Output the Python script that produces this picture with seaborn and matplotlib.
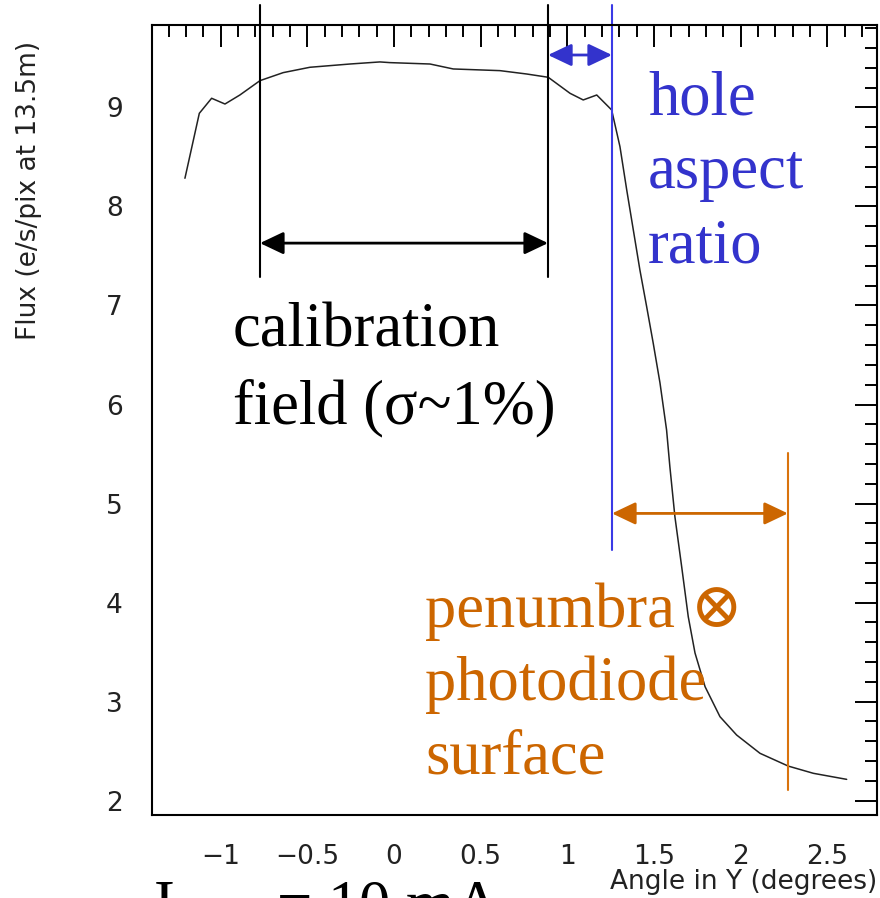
import numpy as np
import pandas as pd
import matplotlib
matplotlib.use("Agg")
import matplotlib.pyplot as plt
from matplotlib.ticker import MultipleLocator
import seaborn as sns

# ---- data ----
angle = [-1.206, -1.123, -1.052, -0.975, -0.889, -0.773, -0.639, -0.485, -0.254, -0.081,
         -0.023, 0.208, 0.342, 0.612, 0.766, 0.890, 1.016, 1.092, 1.170, 1.256,
         1.304, 1.343, 1.381, 1.419, 1.458, 1.496, 1.535, 1.573, 1.592, 1.621,
         1.660, 1.698, 1.737, 1.795, 1.881, 1.977, 2.112, 2.275, 2.420, 2.612]
flux = [8.285, 8.941, 9.093, 9.035, 9.126, 9.271, 9.352, 9.406, 9.439, 9.460,
        9.453, 9.439, 9.389, 9.372, 9.338, 9.305, 9.143, 9.076, 9.126, 8.975,
        8.604, 8.167, 7.763, 7.359, 6.988, 6.618, 6.217, 5.742, 5.371, 4.867,
        4.362, 3.857, 3.490, 3.150, 2.847, 2.662, 2.477, 2.348, 2.275, 2.214]

x_ticks = [-1, -0.5, 0, 0.5, 1, 1.5, 2, 2.5]
x_tick_labels = ["\u22121", "\u22120.5", "0", "0.5", "1", "1.5", "2", "2.5"]
y_ticks = [2, 3, 4, 5, 6, 7, 8, 9]

calib_edges = [-0.773, 0.889]      # calibration field limits
hole_edge = 1.258                  # hole aspect ratio line
penumbra_edge = 2.273              # penumbra limit
calib_arrow_y = 7.63
hole_arrow_y = 9.53
penumbra_arrow_y = 4.90

df = pd.DataFrame({"angle": angle, "flux": flux})

sns.set_style("white")
plt.rcParams["font.family"] = ["DejaVu Sans"]
plt.rcParams["mathtext.fontset"] = "custom"
plt.rcParams["mathtext.rm"] = "Liberation Serif"
plt.rcParams["mathtext.it"] = "Liberation Serif:italic"

BLUE = "#3333cc"
ORANGE = "#cc6600"
SERIF = ["Liberation Serif", "DejaVu Serif", "DejaVu Sans"]

fig = plt.figure(figsize=(8.8, 8.98), dpi=100)
ax = fig.add_axes([152/880, 1-815/898, (877-152)/880, (815-25)/898])

sns.lineplot(data=df, x="angle", y="flux", ax=ax, color="#222222", linewidth=1.1, sort=False)

ax.set_xlim(-1.396, 2.787)
ax.set_ylim(1.854, 9.833)
ax.set_xticks(x_ticks)
ax.set_xticklabels(x_tick_labels)
ax.set_yticks(y_ticks)
ax.xaxis.set_minor_locator(MultipleLocator(0.1))
ax.yaxis.set_minor_locator(MultipleLocator(0.2))
ax.tick_params(which="both", direction="in", top=True, right=True, width=1.4, color="black")
ax.tick_params(which="major", length=15.5, pad=21, labelsize=19, labelcolor="#222222")
ax.tick_params(which="minor", length=8.6)
for s in ax.spines.values():
    s.set_linewidth(1.5)
    s.set_color("black")
ax.set_xlabel("")
ax.set_ylabel("")

fig.text(29/880, 1-190/898, "Flux (e/s/pix at 13.5m)", rotation=90, ha="center", va="center",
         fontsize=19, color="#222222")
fig.text(877/880, 1-882/898, "Angle in Y (degrees)", ha="right", va="center",
         fontsize=19, color="#222222")

# vertical marker lines (extend above the frame)
for xv in calib_edges:
    ax.plot([xv, xv], [7.29, 10.04], color="black", lw=1.5, clip_on=False)
ax.plot([hole_edge, hole_edge], [4.53, 10.04], color="#3a3ae6", lw=1.5, clip_on=False)
ax.plot([penumbra_edge, penumbra_edge], [2.11, 5.51], color="#d9730d", lw=1.5, clip_on=False)

def darrow(x0, x1, y, color):
    ax.annotate("", xy=(x1, y), xytext=(x0, y),
                arrowprops=dict(arrowstyle="<|-|>,head_length=0.8,head_width=0.38",
                                mutation_scale=18, color=color, lw=2,
                                shrinkA=0, shrinkB=0), annotation_clip=False)

darrow(calib_edges[0], calib_edges[1], calib_arrow_y, "black")
darrow(calib_edges[1], hole_edge, hole_arrow_y, BLUE)
darrow(hole_edge, penumbra_edge, penumbra_arrow_y, ORANGE)

ax.text(-0.929, 5.813, "calibration\nfield (\u03c3~1%)", family=SERIF, fontsize=45,
        color="black", ha="left", va="baseline", linespacing=1.40)
ax.text(1.466, 7.439, "hole\naspect\nratio", family=SERIF, fontsize=45,
        color=BLUE, ha="left", va="baseline", linespacing=1.36)
ax.text(0.179, 2.278, "penumbra \u2297\nphotodiode\nsurface", family=SERIF, fontsize=45,
        color=ORANGE, ha="left", va="baseline", linespacing=1.33)

fig.text(153/880, 1-924/898, "I$_{\\mathrm{LED}}$ = 10 mA", family=SERIF, fontsize=45,
         color="black", ha="left", va="baseline")

fig.savefig("out.png", dpi=100)
